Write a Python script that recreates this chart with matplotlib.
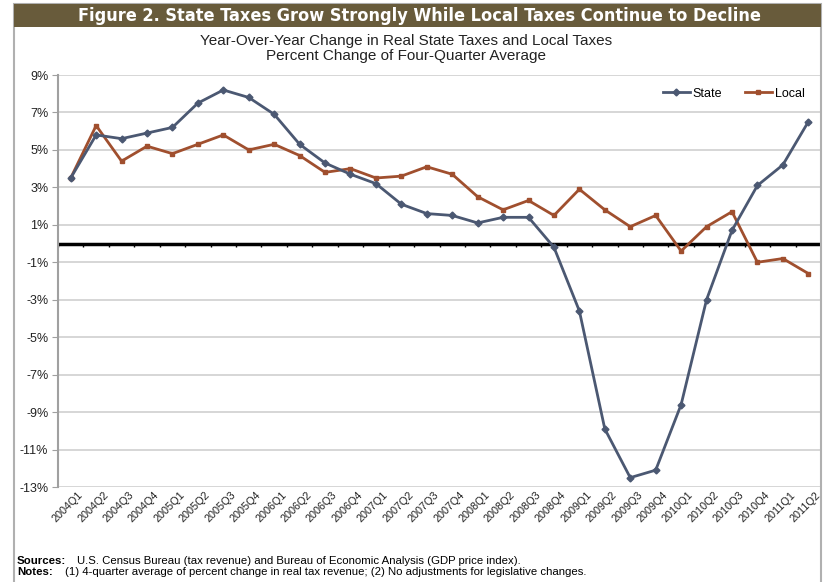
import numpy as np
import matplotlib
matplotlib.use("Agg")
import matplotlib.pyplot as plt
from matplotlib.patches import Rectangle
from matplotlib.transforms import ScaledTranslation

plt.rcParams['font.family'] = ['Liberation Sans', 'DejaVu Sans']
narrow = ['Liberation Sans Narrow', 'DejaVu Sans']

quarters = ['2004Q1', '2004Q2', '2004Q3', '2004Q4',
            '2005Q1', '2005Q2', '2005Q3', '2005Q4',
            '2006Q1', '2006Q2', '2006Q3', '2006Q4',
            '2007Q1', '2007Q2', '2007Q3', '2007Q4',
            '2008Q1', '2008Q2', '2008Q3', '2008Q4',
            '2009Q1', '2009Q2', '2009Q3', '2009Q4',
            '2010Q1', '2010Q2', '2010Q3', '2010Q4',
            '2011Q1', '2011Q2']

# percent change of four-quarter average
state = [3.5, 5.8, 5.6, 5.9, 6.2, 7.5, 8.2, 7.8, 6.9, 5.3,
         4.3, 3.7, 3.2, 2.1, 1.6, 1.5, 1.1, 1.4, 1.4, -0.2,
         -3.6, -9.9, -12.5, -12.1, -8.6, -3.0, 0.7, 3.1, 4.2, 6.5]
local = [3.5, 6.3, 4.4, 5.2, 4.8, 5.3, 5.8, 5.0, 5.3, 4.7,
         3.8, 4.0, 3.5, 3.6, 4.1, 3.7, 2.5, 1.8, 2.3, 1.5,
         2.9, 1.8, 0.9, 1.5, -0.4, 0.9, 1.7, -1.0, -0.8, -1.6]

yticks = list(range(-13, 10, 2))

state_color = '#4b5872'
local_color = '#a04f2e'
bar_color = '#685b3b'

fig = plt.figure(figsize=(8.25, 5.82), dpi=100)

# outer frame and title bar
fig.patches.append(Rectangle((14 / 825, -0.02), 807 / 825, 1.02 - 4 / 582,
                             transform=fig.transFigure, fill=False,
                             edgecolor='#b0b0b0', linewidth=1.5))
fig.patches.append(Rectangle((14 / 825, 1 - 27 / 582), 807 / 825, 23 / 582,
                             transform=fig.transFigure, facecolor=bar_color,
                             edgecolor='none'))
fig.text(0.508, 1 - 16 / 582,
         'Figure 2. State Taxes Grow Strongly While Local Taxes Continue to Decline',
         ha='center', va='center', color='white', fontsize=13, fontweight='bold',
         family=narrow, fontstretch='condensed')
fig.text(0.492, 1 - 41 / 582, 'Year-Over-Year Change in Real State Taxes and Local Taxes',
         ha='center', va='center', fontsize=11, color='#222222')
fig.text(0.492, 1 - 56 / 582, 'Percent Change of Four-Quarter Average',
         ha='center', va='center', fontsize=11, color='#222222')

ax = fig.add_axes([58 / 825, 1 - 487 / 582, 763 / 825, 412 / 582])
x = np.arange(len(quarters))

ax.plot(x, state, color=state_color, lw=2, marker='D', ms=3.5, label='State', zorder=4)
ax.plot(x, local, color=local_color, lw=2, marker='s', ms=3.5, label='Local', zorder=3)

# zero line with category tick marks
ax.axhline(0, color='black', lw=2.5, zorder=2)
ax.vlines(np.arange(-0.5, len(quarters)), -0.17, 0, color='black', lw=1, zorder=2)

ax.set_xlim(-0.5, len(quarters) - 0.5)
ax.set_ylim(-13, 9)
ax.set_yticks(yticks)
ax.set_yticklabels([f'{v}%' for v in yticks], fontsize=9, color='#222222')
ax.yaxis.grid(True, color='#cfcfcf', lw=1.2)
ax.set_axisbelow(True)
ax.tick_params(axis='y', length=4, color='#a0a0a0', pad=3)

ax.set_xticks(x)
ax.set_xticklabels(quarters, rotation=45, ha='right', rotation_mode='anchor',
                   fontsize=7.8, color='#222222')
ax.tick_params(axis='x', length=0, pad=2)
shift = ScaledTranslation(7 / 100, 0, fig.dpi_scale_trans)
for lab in ax.get_xticklabels():
    lab.set_transform(lab.get_transform() + shift)

for side in ['top', 'right']:
    ax.spines[side].set_visible(False)
ax.spines['bottom'].set_visible(False)
ax.spines['left'].set_color('#a0a0a0')
ax.spines['left'].set_linewidth(1.5)

ax.legend(loc='upper right', bbox_to_anchor=(0.99, 0.99), ncol=2, frameon=False,
          fontsize=9, handlelength=2.2, handletextpad=0.2, columnspacing=1.8,
          borderaxespad=0.3)

fig.text(17 / 825, 1 - 561 / 582, 'Sources:', fontsize=8.2, fontweight='bold', va='center')
fig.text(77 / 825, 1 - 561 / 582,
         'U.S. Census Bureau (tax revenue) and Bureau of Economic Analysis (GDP price index).',
         fontsize=8.2, va='center')
fig.text(17 / 825, 1 - 572 / 582, 'Notes:', fontsize=8.2, fontweight='bold', va='center')
fig.text(65 / 825, 1 - 572 / 582,
         '(1) 4-quarter average of percent change in real tax revenue; (2) No adjustments for legislative changes.',
         fontsize=8.2, va='center')

fig.savefig('out.png', dpi=100)
